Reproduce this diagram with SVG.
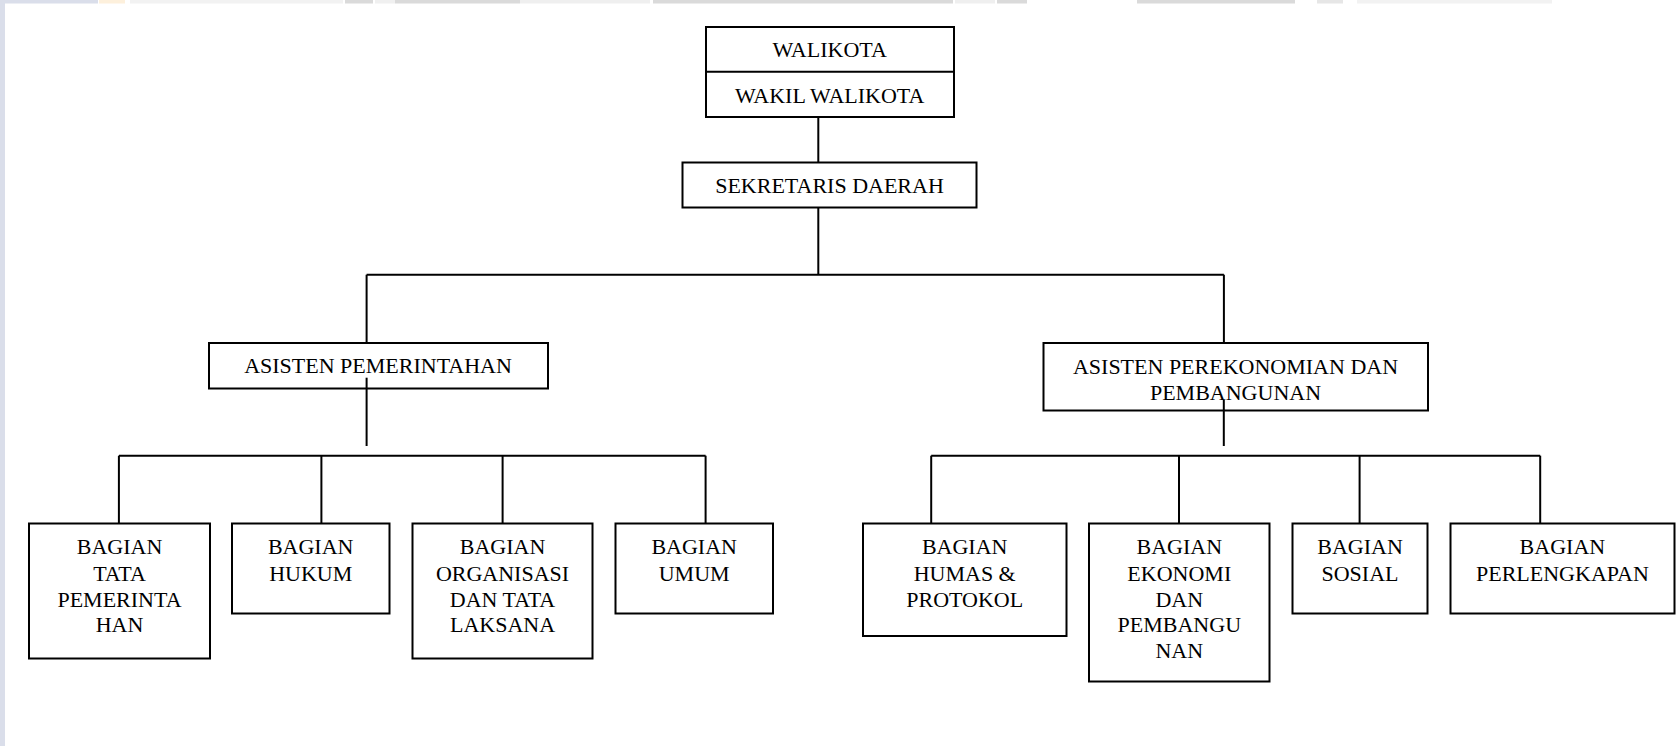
<svg xmlns="http://www.w3.org/2000/svg" width="1676" height="746" viewBox="0 0 1676 746">
<style>
.box{fill:#fff;stroke:#000;stroke-width:2}
.ln{fill:none;stroke:#000;stroke-width:2}
text{font-family:"Liberation Serif","Times New Roman",serif;font-size:22px;fill:#000;text-anchor:middle}
</style>
<rect width="1676" height="746" fill="#fff"/>
<g id="watermark">
<rect x="0" y="0" width="5" height="746" fill="#dadeea"/>
<rect x="0" y="0" width="98" height="3.5" fill="#dadeea"/>
<rect x="99" y="0" width="26" height="3.5" fill="#fdf0dc"/>
<rect x="130" y="0" width="213" height="3.5" fill="#f2f2f2"/>
<rect x="345" y="0" width="28" height="3.5" fill="#dadada"/>
<rect x="375" y="0" width="20" height="3.5" fill="#f0f0f0"/>
<rect x="395" y="0" width="125" height="3.5" fill="#dadada"/>
<rect x="520" y="0" width="130" height="3.5" fill="#efefef"/>
<rect x="653" y="0" width="300" height="3.5" fill="#dadada"/>
<rect x="955" y="0" width="40" height="3.5" fill="#efefef"/>
<rect x="997" y="0" width="30" height="3.5" fill="#dadada"/>
<rect x="1137" y="0" width="158" height="3.5" fill="#dadada"/>
<rect x="1317" y="0" width="26" height="3.5" fill="#e6e6e6"/>
<rect x="1357" y="0" width="195" height="3.5" fill="#f2f2f2"/>
</g>
<g id="connectors">
<line class="ln" x1="818.3" y1="117" x2="818.3" y2="162.5"/>
<line class="ln" x1="818.3" y1="207.5" x2="818.3" y2="274.7"/>
<line class="ln" x1="366.6" y1="274.7" x2="1223.9" y2="274.7"/>
<line class="ln" x1="366.6" y1="274.7" x2="366.6" y2="343"/>
<line class="ln" x1="1223.9" y1="274.7" x2="1223.9" y2="343"/>
<line class="ln" x1="366.6" y1="377.7" x2="366.6" y2="446"/>
<line class="ln" x1="1223.8" y1="400" x2="1223.8" y2="446"/>
<line class="ln" x1="118.9" y1="455.7" x2="705.6" y2="455.7"/>
<line class="ln" x1="118.9" y1="455.7" x2="118.9" y2="523.5"/>
<line class="ln" x1="321.4" y1="455.7" x2="321.4" y2="523.5"/>
<line class="ln" x1="502.6" y1="455.7" x2="502.6" y2="523.5"/>
<line class="ln" x1="705.6" y1="455.7" x2="705.6" y2="523.5"/>
<line class="ln" x1="931.2" y1="455.7" x2="1540.2" y2="455.7"/>
<line class="ln" x1="931.2" y1="455.7" x2="931.2" y2="523.5"/>
<line class="ln" x1="1179" y1="455.7" x2="1179" y2="523.5"/>
<line class="ln" x1="1359.6" y1="455.7" x2="1359.6" y2="523.5"/>
<line class="ln" x1="1540.2" y1="455.7" x2="1540.2" y2="523.5"/>
</g>
<g id="walikota">
<rect class="box" x="706" y="27" width="248" height="90"/>
<line class="ln" x1="706" y1="71.7" x2="954" y2="71.7"/>
<text x="829.7" y="57.3">WALIKOTA</text>
<text x="829.7" y="102.7">WAKIL WALIKOTA</text>
</g>
<g id="sekda">
<rect class="box" x="682.5" y="162.5" width="294" height="45"/>
<text x="829.5" y="193">SEKRETARIS DAERAH</text>
</g>
<g id="asisten-pemerintahan">
<rect class="box" x="209" y="343" width="339" height="45.5"/>
<text x="378" y="373.3">ASISTEN PEMERINTAHAN</text>
</g>
<g id="asisten-perekonomian">
<rect class="box" x="1043.5" y="343" width="384.5" height="67.5"/>
<text x="1235.5" y="374.3">ASISTEN PEREKONOMIAN DAN</text>
<text x="1235.5" y="400.3">PEMBANGUNAN</text>
</g>
<g id="connectors-overlay">
<line class="ln" x1="366.6" y1="377.7" x2="366.6" y2="388.5"/>
<line class="ln" x1="1223.8" y1="400" x2="1223.8" y2="410.5"/>
</g>
<g id="bagian-tata-pemerintahan">
<rect class="box" x="29" y="523.5" width="181" height="135"/>
<text x="119.5" y="554">BAGIAN</text>
<text x="119.5" y="580.5">TATA</text>
<text x="119.5" y="606.5">PEMERINTA</text>
<text x="119.5" y="632.3">HAN</text>
</g>
<g id="bagian-hukum">
<rect class="box" x="232" y="523.5" width="157.5" height="90"/>
<text x="310.7" y="554">BAGIAN</text>
<text x="310.7" y="580.5">HUKUM</text>
</g>
<g id="bagian-organisasi">
<rect class="box" x="412.5" y="523.5" width="180" height="135"/>
<text x="502.5" y="554">BAGIAN</text>
<text x="502.5" y="580.5">ORGANISASI</text>
<text x="502.5" y="606.5">DAN TATA</text>
<text x="502.5" y="632.3">LAKSANA</text>
</g>
<g id="bagian-umum">
<rect class="box" x="615.5" y="523.5" width="157.5" height="90"/>
<text x="694.2" y="554">BAGIAN</text>
<text x="694.2" y="580.5">UMUM</text>
</g>
<g id="bagian-humas">
<rect class="box" x="863" y="523.5" width="203.5" height="112.5"/>
<text x="964.7" y="554">BAGIAN</text>
<text x="964.7" y="580.5">HUMAS &amp;</text>
<text x="964.7" y="606.5">PROTOKOL</text>
</g>
<g id="bagian-ekonomi">
<rect class="box" x="1089" y="523.5" width="180.5" height="158"/>
<text x="1179.3" y="554">BAGIAN</text>
<text x="1179.3" y="580.5">EKONOMI</text>
<text x="1179.3" y="606.5">DAN</text>
<text x="1179.3" y="632">PEMBANGU</text>
<text x="1179.3" y="658.3">NAN</text>
</g>
<g id="bagian-sosial">
<rect class="box" x="1292.5" y="523.5" width="135" height="90"/>
<text x="1360" y="554">BAGIAN</text>
<text x="1360" y="580.5">SOSIAL</text>
</g>
<g id="bagian-perlengkapan">
<rect class="box" x="1450.5" y="523.5" width="224" height="90"/>
<text x="1562.4" y="554">BAGIAN</text>
<text x="1562.4" y="580.5">PERLENGKAPAN</text>
</g>
</svg>
